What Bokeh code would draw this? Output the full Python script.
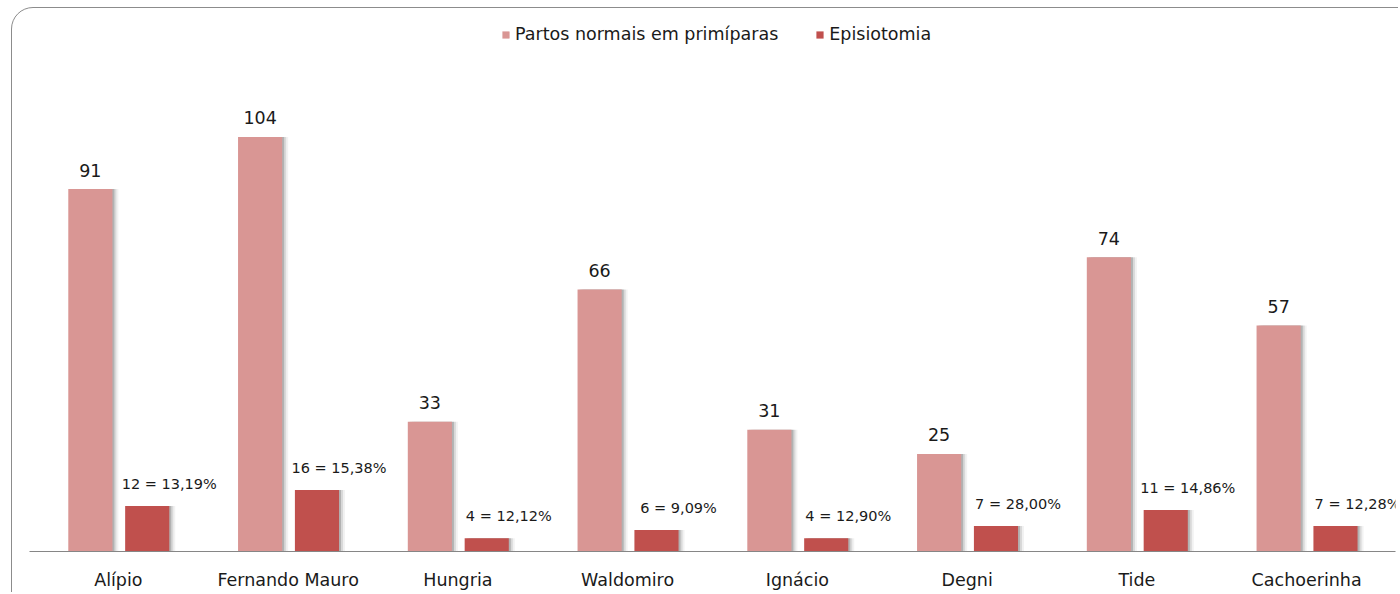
from bokeh.plotting import figure
from bokeh.models import ColumnDataSource, FactorRange, Range1d, Legend, LegendItem, InlineStyleSheet
from bokeh.transform import dodge
from bokeh.core.properties import value
from bokeh.embed import file_html
from bokeh.resources import INLINE

categories = ["Alípio", "Fernando Mauro", "Hungria", "Waldomiro", "Ignácio", "Degni", "Tide", "Cachoerinha"]
partos = [91, 104, 33, 66, 31, 25, 74, 57]
episio = [12, 16, 4, 6, 4, 7, 11, 7]
series_names = ["Partos normais em primíparas", "Episiotomia"]

pct_labels = [f"{e} = {e / t * 100:.2f}%".replace(".", ",") for e, t in zip(episio, partos)]
src = ColumnDataSource(dict(cat=categories, partos=partos, episio=episio,
                            plab=[str(v) for v in partos], elab=pct_labels))

FONT = "DejaVu Sans"
PINK = "#D99694"
RED = "#C0504D"
TXT = "#1a1a1a"
Y0 = 0.67  # value at the axis line (the source's zero sits just below its axis)

p = figure(x_range=FactorRange(*categories, range_padding=0.0235, range_padding_units="absolute"),
           y_range=Range1d(Y0, 138.0),
           width=1398, height=592, output_backend="svg", toolbar_location=None,
           y_axis_location=None, min_border_left=29, min_border_right=3,
           min_border_top=0, min_border_bottom=40)
p.outline_line_color = None
p.grid.visible = False
p.background_fill_color = "white"
p.border_fill_color = "white"

OFF_P, OFF_E, W = -0.165, 0.17, 0.26
px = 1 / 170.0

# soft shadows to the right of the bars
for k, a in [(6, 0.05), (4, 0.10), (2, 0.18)]:
    p.vbar(x=dodge("cat", OFF_P + k * px, range=p.x_range), top="partos", bottom=Y0, width=W,
           source=src, fill_color="black", fill_alpha=a, line_color=None)
    p.vbar(x=dodge("cat", OFF_E + k * px, range=p.x_range), top="episio", bottom=Y0, width=W,
           source=src, fill_color="black", fill_alpha=a, line_color=None)

r1 = p.vbar(x=dodge("cat", OFF_P, range=p.x_range), top="partos", bottom=Y0, width=W, source=src,
            fill_color=PINK, line_color=None)
r2 = p.vbar(x=dodge("cat", OFF_E, range=p.x_range), top="episio", bottom=Y0, width=W, source=src,
            fill_color=RED, line_color=None)

p.text(x=dodge("cat", OFF_P, range=p.x_range), y="partos", text="plab", source=src,
       text_align="center", text_baseline="middle", y_offset=-19,
       text_font=value(FONT), text_font_size="17.5px", text_color=TXT)
p.text(x=dodge("cat", OFF_E + 0.13, range=p.x_range), y="episio", text="elab", source=src,
       text_align="center", text_baseline="middle", y_offset=-22,
       text_font=value(FONT), text_font_size="14.5px", text_color=TXT)

xa = p.xaxis[0]
xa.axis_line_color = "#868686"
xa.axis_line_width = 1.2
xa.major_tick_line_color = None
xa.minor_tick_line_color = None
xa.major_label_text_font = FONT
xa.major_label_text_font_size = "17.5px"
xa.major_label_text_color = TXT
xa.major_label_standoff = 12

legend = Legend(items=[LegendItem(label=series_names[0], renderers=[r1]),
                       LegendItem(label=series_names[1], renderers=[r2])],
                location=(472, 507), orientation="horizontal", padding=0, margin=0,
                border_line_color=None, background_fill_alpha=0,
                glyph_width=9, glyph_height=9, label_standoff=5, spacing=37,
                label_text_font=FONT, label_text_font_size="17.5px", label_text_color=TXT)
p.add_layout(legend)

p.stylesheets = [InlineStyleSheet(css="""
:host { position: relative; overflow: hidden; }
:host::after { content: ""; position: absolute; left: 11px; top: 7px; width: 3000px; height: 3000px;
  border: 1.5px solid #8c8c8c; border-radius: 22px; box-sizing: border-box; pointer-events: none; z-index: 10; }
""")]

open("out.html", "w").write(file_html(p, INLINE))
